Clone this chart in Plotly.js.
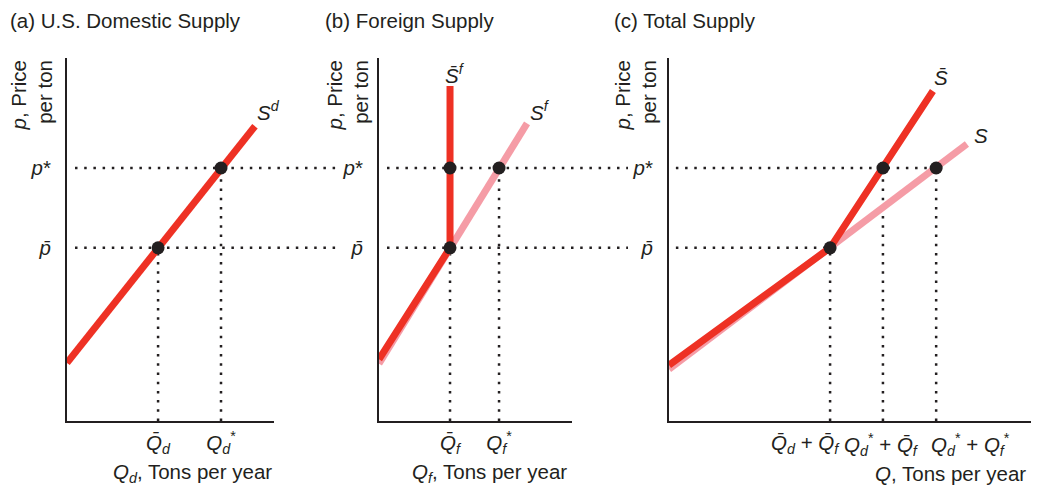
<!DOCTYPE html>
<html>
<head>
<meta charset="utf-8">
<script src="https://cdn.plot.ly/plotly-3.0.1.min.js"></script>
<style>html,body{margin:0;padding:0;background:#fff;}#chart{width:1045px;height:486px;}</style>
</head>
<body>
<div id="chart"></div>
<script>
// ---------- data (abstract units, axes 0..10) ----------
const priceLevels = [4.77, 6.97];                 // p̄, p*
const priceTickText = ['<i>p\u0304</i>', '<i>p</i>*'];

// (a) domestic
const domCurveQ = [0, 9.08];
const domCurveP = [1.60, 8.12];
const domPointQ = [4.40, 7.44];
const domPointP = [4.77, 6.97];
const domTickText = ['<i>Q\u0304</i><sub><i>d</i></sub>', '<i>Q</i><sub><i>d</i></sub><sup>*</sup>'];

// (b) foreign
const forCurveQ = [0, 7.67];
const forCurveP = [1.58, 8.20];
const forLimitQ = [0, 3.68, 3.68];
const forLimitP = [1.70, 4.77, 9.23];
const forPointQ = [3.68, 3.68, 6.22];
const forPointP = [4.77, 6.97, 6.97];
const forTickVals = [3.68, 6.22];
const forTickText = ['<i>Q\u0304</i><sub><i>f</i></sub>', '<i>Q</i><sub><i>f</i></sub><sup>*</sup>'];

// (c) total
const totCurveQ = [0, 4.45, 8.23];
const totCurveP = [1.43, 4.77, 7.63];
const totLimitQ = [0, 4.45, 7.29];
const totLimitP = [1.54, 4.77, 9.09];
const totPointQ = [4.45, 5.91, 7.38];
const totPointP = [4.77, 6.97, 6.97];
const totTickText = [
  '<i>Q\u0304</i><sub><i>d</i></sub> + <i>Q\u0304</i><sub><i>f</i></sub>',
  '<i>Q</i><sub><i>d</i></sub><sup>*</sup> + <i>Q\u0304</i><sub><i>f</i></sub>',
  '<i>Q</i><sub><i>d</i></sub><sup>*</sup> + <i>Q</i><sub><i>f</i></sub><sup>*</sup>'
];

const panelTitles = ['(a) U.S. Domestic Supply', '(b) Foreign Supply', '(c) Total Supply'];
const xTitles = ['<i>Q</i><sub><i>d</i></sub>, Tons per year', '<i>Q</i><sub><i>f</i></sub>, Tons per year', '<i>Q</i>, Tons per year'];
const yTitle = '<i>p</i>, Price<br>per ton';
const curveLabels = ['<i>S</i><sup><i>d</i></sup>', '<i>S\u0304</i><sup><i>f</i></sup>', '<i>S</i><sup><i>f</i></sup>', '<i>S\u0304</i>', '<i>S</i>'];

// ---------- style ----------
const W = 1045, H = 486;
const RED = '#ee3124', PINK = '#f59ca6', INK = '#231f20';
const FONT = 'Liberation Sans, Arial, Helvetica, sans-serif';
const FS = 20.5;
const px = v => v / W, py = v => 1 - v / H;
const yDom = [py(421), py(58)];
const xDoms = [[px(67), px(274)], [px(379), px(572)], [px(669), px(1031)]];

function line(x, y, color, xa, ya) {
  return {x: x, y: y, xaxis: xa, yaxis: ya, mode: 'lines', line: {color: color, width: 7}, hoverinfo: 'skip', showlegend: false};
}
function dots(x, y, xa, ya) {
  return {x: x, y: y, xaxis: xa, yaxis: ya, mode: 'markers', marker: {color: INK, size: 13}, cliponaxis: false, hoverinfo: 'skip', showlegend: false};
}

const traces = [
  line(domCurveQ, domCurveP, RED, 'x', 'y'),
  dots(domPointQ, domPointP, 'x', 'y'),
  line(forCurveQ, forCurveP, PINK, 'x2', 'y2'),
  line(forLimitQ, forLimitP, RED, 'x2', 'y2'),
  dots(forPointQ, forPointP, 'x2', 'y2'),
  line(totCurveQ, totCurveP, PINK, 'x3', 'y3'),
  line(totLimitQ, totLimitP, RED, 'x3', 'y3'),
  dots(totPointQ, totPointP, 'x3', 'y3')
];

const DASH = '2.5px,6.7px';
const dotLine = {color: INK, width: 2.5, dash: DASH};
const shapes = [];
// horizontal dotted guides
const hRanges = [[px(75), px(340), 'y'], [px(387), px(628), 'y2']];
hRanges.forEach(r => priceLevels.forEach(p => shapes.push({type: 'line', xref: 'paper', yref: r[2], x0: r[0], x1: r[1], y0: p, y1: p, line: dotLine, layer: 'below'})));
totPointQ.forEach((q, i) => { if (i !== 1) shapes.push({type: 'line', xref: 'x3', yref: 'y3', x0: 0.19, x1: q, y0: totPointP[i], y1: totPointP[i], line: dotLine, layer: 'below'}); });
// vertical dotted guides
domPointQ.forEach((q, i) => shapes.push({type: 'line', xref: 'x', yref: 'y', x0: q, x1: q, y0: 0, y1: domPointP[i], line: dotLine, layer: 'below'}));
forTickVals.forEach((q, i) => shapes.push({type: 'line', xref: 'x2', yref: 'y2', x0: q, x1: q, y0: 0, y1: i === 0 ? forPointP[0] : forPointP[2], line: dotLine, layer: 'below'}));
totPointQ.forEach((q, i) => shapes.push({type: 'line', xref: 'x3', yref: 'y3', x0: q, x1: q, y0: 0, y1: totPointP[i], line: dotLine, layer: 'below'}));

const tfont = {family: FONT, size: FS, color: INK};
function xaxis(i, vals, texts) {
  return {domain: xDoms[i], range: [0, 10], anchor: i === 0 ? 'y' : 'y' + (i + 1), showgrid: false, zeroline: false,
    showline: true, linecolor: INK, linewidth: 2, ticks: '', tickmode: 'array', tickvals: vals, ticktext: texts,
    tickfont: tfont, ticklabelstandoff: 2, fixedrange: true};
}
function yaxis(i) {
  return {domain: yDom, range: [0, 10], anchor: i === 0 ? 'x' : 'x' + (i + 1), showgrid: false, zeroline: false,
    showline: true, linecolor: INK, linewidth: 2, ticks: '', tickmode: 'array', tickvals: priceLevels, ticktext: priceTickText,
    tickfont: tfont, ticklabelstandoff: 10, fixedrange: true};
}

const ann = [];
const titleX = [8, 323, 612];
panelTitles.forEach((t, i) => ann.push({text: t, xref: 'paper', yref: 'paper', x: px(titleX[i]), y: py(20), xanchor: 'left', yanchor: 'middle', showarrow: false, font: tfont}));
const yTitleX = [31, 347, 635];
yTitleX.forEach(x => ann.push({text: yTitle, xref: 'paper', yref: 'paper', x: px(x), y: py(58), xanchor: 'center', yanchor: 'top', textangle: -90, align: 'right', showarrow: false, font: tfont}));
const xTitleEnd = [274, 569, 1028];
xTitles.forEach((t, i) => ann.push({text: t, xref: 'paper', yref: 'paper', x: px(xTitleEnd[i]), y: py(473), xanchor: 'right', yanchor: 'middle', showarrow: false, font: tfont}));
// curve labels
ann.push({text: curveLabels[0], xref: 'x', yref: 'y', x: domCurveQ[1], y: domCurveP[1], xshift: 14, yshift: 15, showarrow: false, font: tfont});
ann.push({text: curveLabels[1], xref: 'x2', yref: 'y2', x: forLimitQ[2], y: forLimitP[2], xshift: 5, yshift: 12, showarrow: false, font: tfont});
ann.push({text: curveLabels[2], xref: 'x2', yref: 'y2', x: forCurveQ[1], y: forCurveP[1], xshift: 13, yshift: 12, showarrow: false, font: tfont});
ann.push({text: curveLabels[3], xref: 'x3', yref: 'y3', x: totLimitQ[2], y: totLimitP[2], xshift: 8, yshift: 14, showarrow: false, font: tfont});
ann.push({text: curveLabels[4], xref: 'x3', yref: 'y3', x: totCurveQ[2], y: totCurveP[2], xshift: 14, yshift: 9, showarrow: false, font: tfont});
// panel c quantity labels
const totLabelShift = [-25, -1, 34];
totPointQ.forEach((q, i) => ann.push({text: totTickText[i], xref: 'x3', yref: 'paper', x: q, y: py(444), xshift: totLabelShift[i], xanchor: 'center', yanchor: 'middle', showarrow: false, font: tfont}));

const layout = {
  width: W, height: H, autosize: false, margin: {l: 0, r: 0, t: 0, b: 0},
  paper_bgcolor: '#fff', plot_bgcolor: '#fff', font: {family: FONT, color: INK},
  xaxis: xaxis(0, domPointQ, domTickText),
  xaxis2: xaxis(1, forTickVals, forTickText),
  xaxis3: xaxis(2, [], []),
  yaxis: yaxis(0), yaxis2: yaxis(1), yaxis3: yaxis(2),
  shapes: shapes, annotations: ann, showlegend: false
};
Plotly.newPlot('chart', traces, layout, {staticPlot: true, displayModeBar: false});
</script>
</body>
</html>
